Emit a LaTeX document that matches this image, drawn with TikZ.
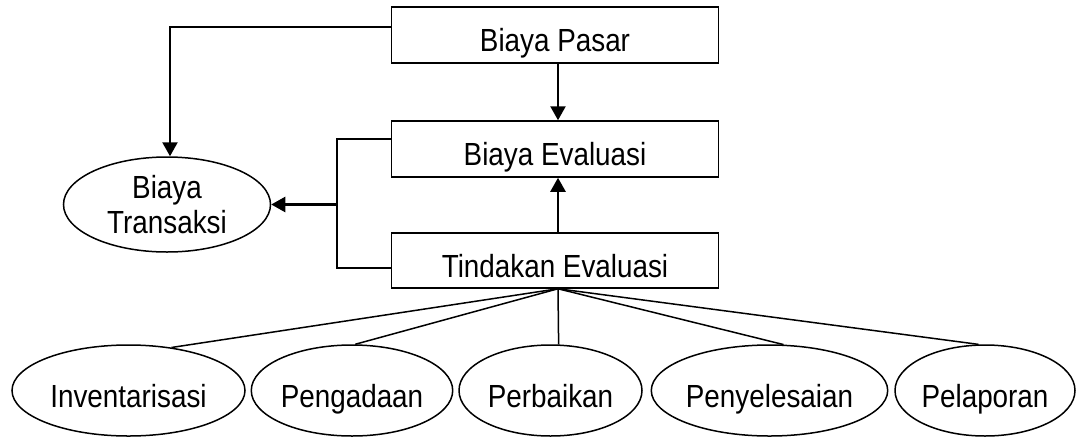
\documentclass[tikz,border=0pt]{standalone}
\usepackage{fontspec}
\setmainfont{Liberation Sans}[FakeStretch=0.87]
\usetikzlibrary{shapes.geometric,arrows.meta,calc}
\begin{document}
\begin{tikzpicture}[x=1pt,y=-1pt,
  every node/.style={font=\fontsize{32}{35}\selectfont, inner sep=0pt},
  label text/.style={text height=33pt, text depth=0pt},
  costbox/.style={draw, line width=1.5pt, rectangle, minimum width=327pt, label text},
  oval/.style={draw, line width=1.5pt, ellipse, minimum height=91pt},
  thin/.style={line width=1.5pt},
  arr/.style={line width=2.4pt, -{Triangle[length=14pt,width=15pt]}}]
\useasboundingbox (0,0) rectangle (1076,437);

% cost boxes
\node[costbox, minimum height=56pt] (pasar) at (555,35) {Biaya Pasar};
\node[costbox, minimum height=56pt] (eval)  at (555,149) {Biaya Evaluasi};
\node[costbox, minimum height=55pt] (tind)  at (555,260.5) {Tindakan Evaluasi};

% transaction cost
\node[oval, align=center, minimum width=207pt, minimum height=95pt] (trans) at (167,204.5) {Biaya\\Transaksi};

% evaluation activities
\node[oval, label text, minimum width=233pt] (inv)  at (128.5,390.5) {Inventarisasi};
\node[oval, label text, minimum width=198pt] (peng) at (352,390.5) {Pengadaan};
\node[oval, label text, minimum width=183pt] (perb) at (550.5,390.5) {Perbaikan};
\node[oval, label text, minimum width=235pt] (peny) at (769.5,390.5) {Penyelesaian};
\node[oval, label text, minimum width=180pt] (pela) at (985,390.5) {Pelaporan};

% arrows between costs
\draw[arr] ([xshift=3pt]pasar.south) -- ([xshift=3pt]eval.north);
\draw[arr] ([xshift=3pt]tind.north) -- ([xshift=3pt]eval.south);
\draw[arr] ([yshift=8pt]pasar.west) -| ([xshift=3pt]trans.north);

% bracket joining evaluation cost and action
\coordinate (bx) at (337,204.5);
\draw[thin] ([yshift=10pt]eval.west) -| (bx) |- ([yshift=-7.5pt]tind.west);
\draw[arr] (bx) -- (trans.east);

% branches to activities
\coordinate (apex) at ([xshift=3pt]tind.south);
\draw[thin] (apex) -- (inv.45.7);
\draw[thin] (apex) -- (peng.86);
\draw[thin] (apex) -- (perb.80.6);
\draw[thin] (apex) -- (peny.73.4);
\draw[thin] (apex) -- (pela.98.8);
\end{tikzpicture}
\end{document}
